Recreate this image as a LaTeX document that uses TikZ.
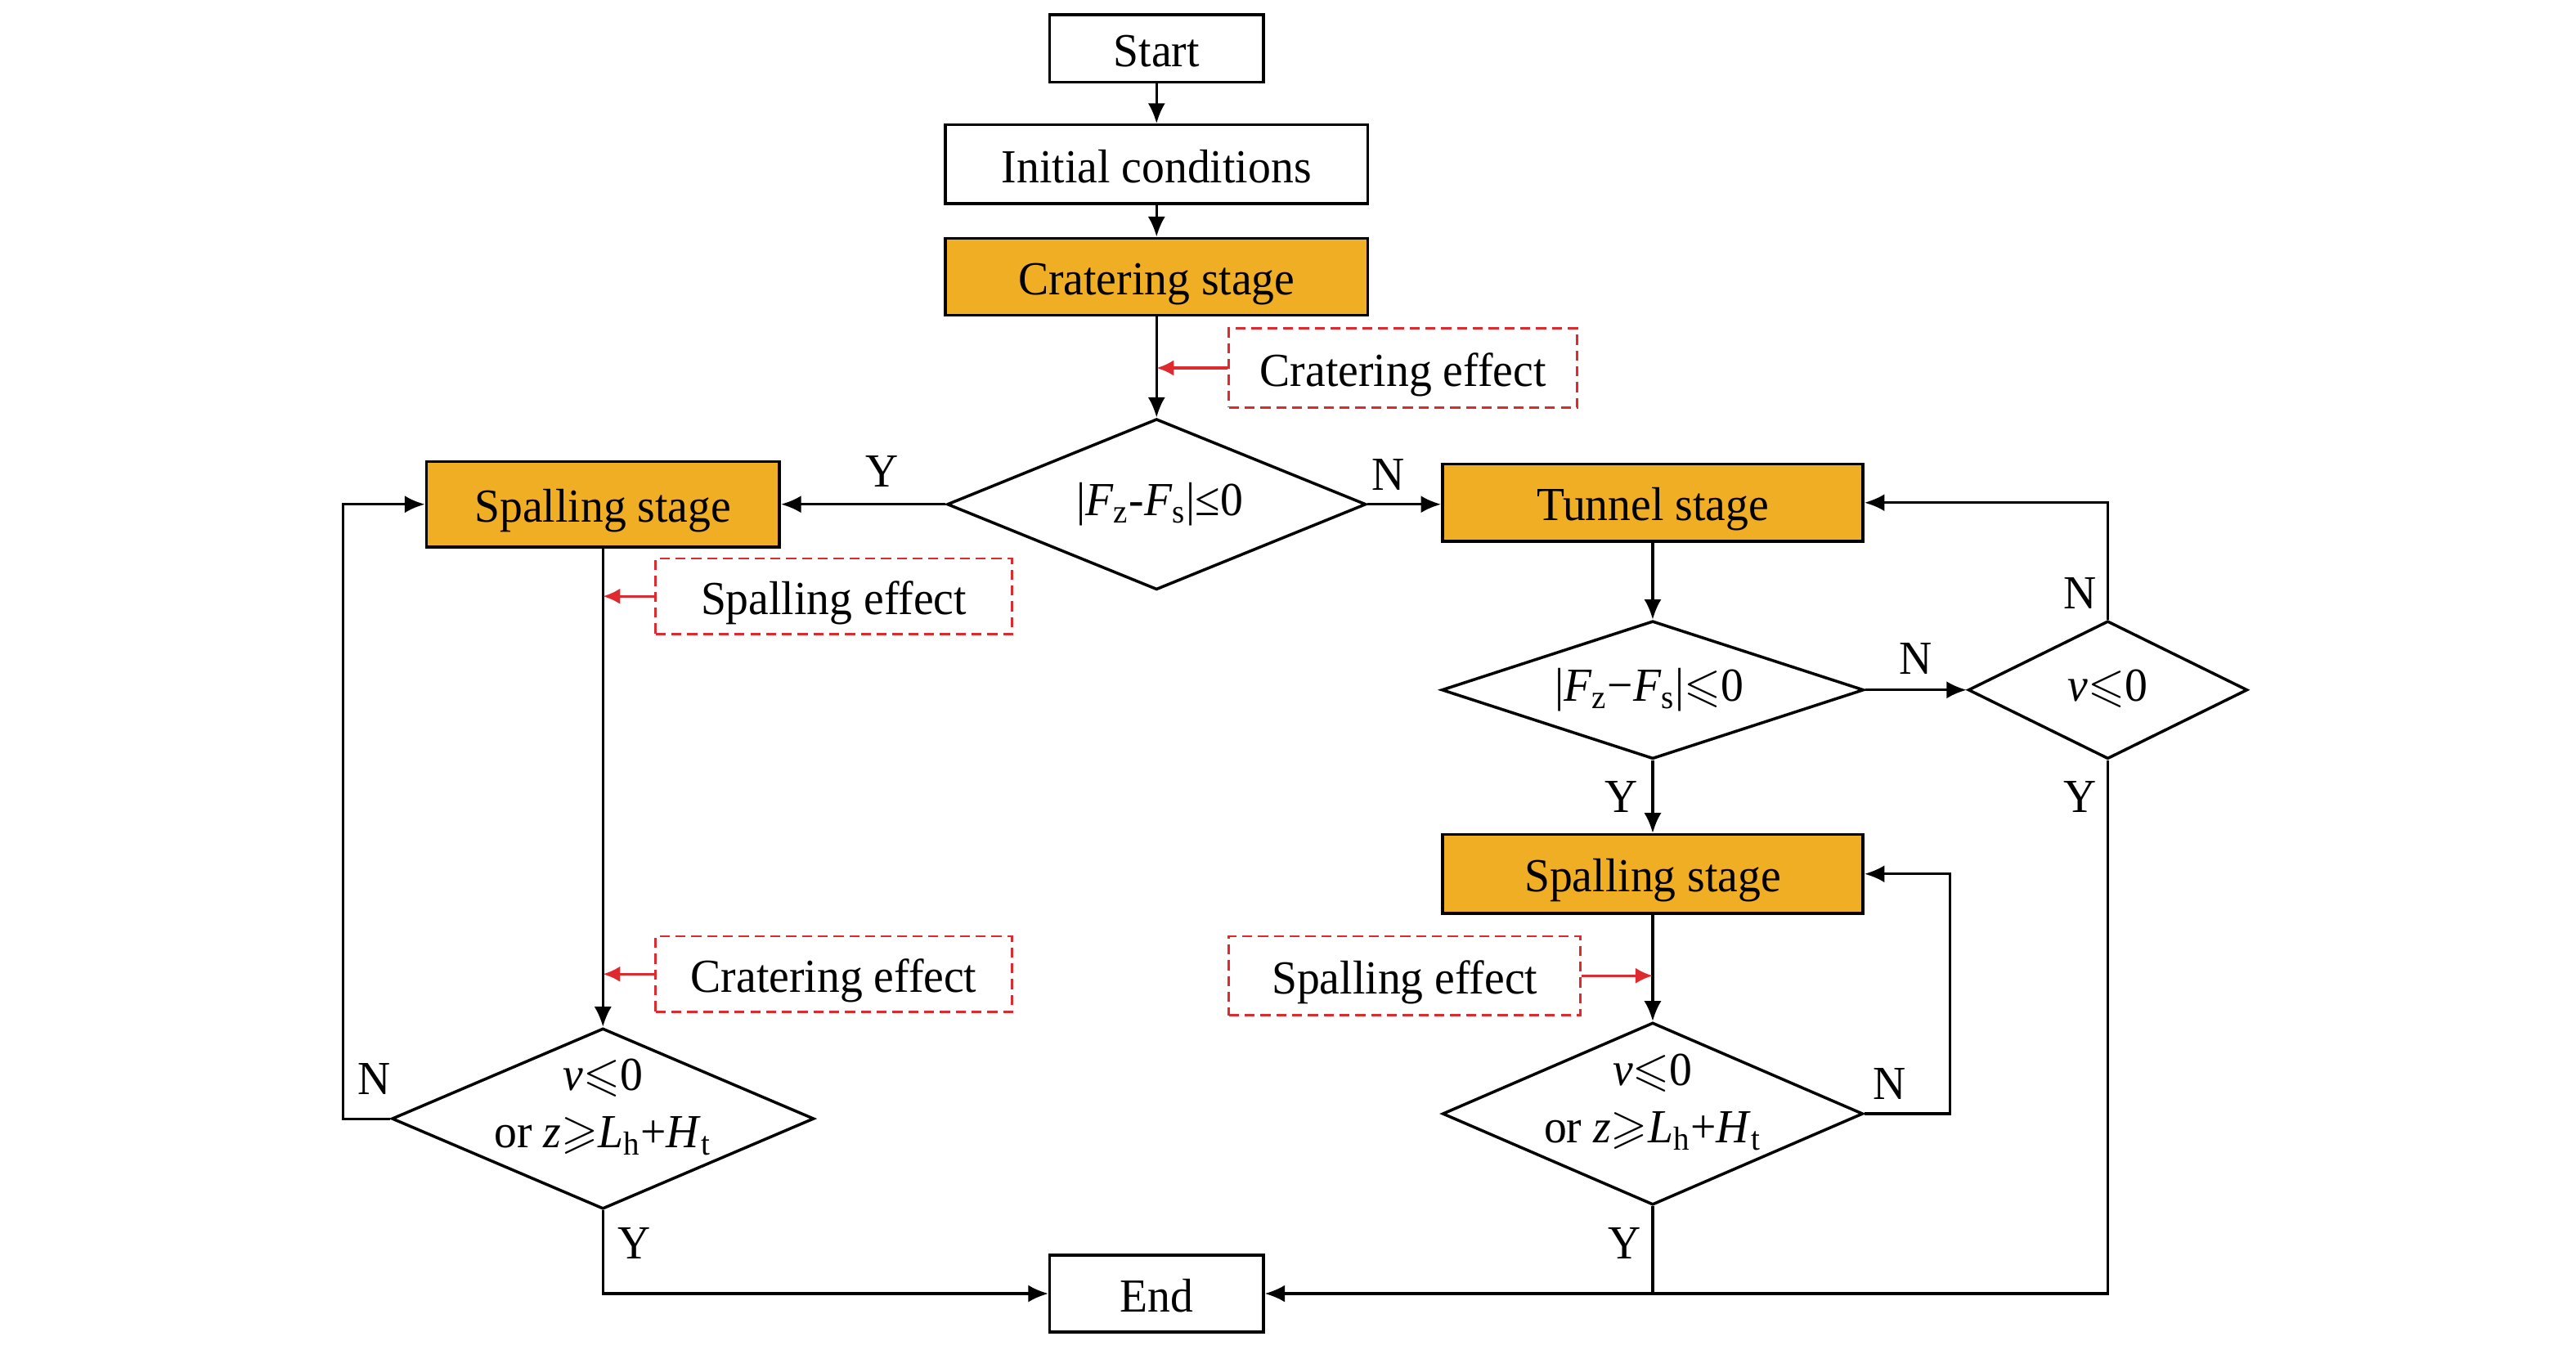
\documentclass[tikz,border=0pt]{standalone}
\usepackage{fontspec}
\setmainfont{Liberation Serif}[FakeStretch=0.96]
\usepackage{amssymb}
\usetikzlibrary{shapes.geometric,arrows.meta}
\definecolor{stagefill}{RGB}{240,174,36}
\definecolor{effred}{RGB}{222,41,46}
\newcommand{\upx}{0.02009cm}
\begin{document}
\begin{tikzpicture}[x=\upx, y=-\upx,
  every node/.style={font=\fontsize{16.5}{20}\selectfont, inner sep=0pt},
  plainbox/.style={draw, line width=1pt, rectangle, text height=12.6pt, text depth=0pt},
  stagebox/.style={plainbox, fill=stagefill},
  decision/.style={draw, line width=1pt, diamond},
  effectbox/.style={draw=effred, line width=0.8pt, dash pattern=on 3.5pt off 2pt, rectangle, text height=12.6pt, text depth=0pt},
  conn/.style={line width=0.9pt},
  arr/.style={conn, -{Latex[length=7pt,width=6pt]}},
  redarr/.style={effred, line width=0.9pt, -{Latex[length=6pt,width=5.5pt]}},
  yn/.style={}
]
\useasboundingbox (0,0) rectangle (1568,827);

% main column
\node[plainbox, minimum width=130*\upx, minimum height=41*\upx] (start) at (704,29.5) {Start};
\node[plainbox, minimum width=257*\upx, minimum height=48*\upx] (init) at (704,100) {Initial conditions};
\node[stagebox, minimum width=257*\upx, minimum height=47*\upx] (crat) at (704,168.5) {Cratering stage};
\node[decision, minimum width=255*\upx, minimum height=104*\upx] (d1) at (704,307) {};
\node (d1t) at (706,307) {|\textit{F}\textsubscript{z}-\textit{F}\textsubscript{s}|≤0};
\node[plainbox, minimum width=130*\upx, minimum height=47*\upx] (end) at (704,787.5) {End};

% left column
\node[stagebox, minimum width=215*\upx, minimum height=52*\upx] (spl) at (367,307) {Spalling stage};
\node[decision, minimum width=257*\upx, minimum height=110*\upx] (d4) at (367,681) {};
\node (d4t) at (367,674) [align=center]
  {\textit{v}$\leqslant$0\\or \textit{z}$\geqslant$\textit{L}\textsubscript{h}+\textit{H}\textsubscript{t}};

% right column
\node[stagebox, minimum width=256*\upx, minimum height=47*\upx] (tun) at (1006,306) {Tunnel stage};
\node[decision, minimum width=257*\upx, minimum height=84*\upx] (d2) at (1006,420) {};
\node (d2t) at (1004,420) {|\textit{F}\textsubscript{z}−\textit{F}\textsubscript{s}|$\leqslant$0};
\node[decision, minimum width=170*\upx, minimum height=84*\upx] (d3) at (1283,420) {};
\node (d3t) at (1283,419) {\textit{v}$\leqslant$0};
\node[stagebox, minimum width=256*\upx, minimum height=48*\upx] (spr) at (1006,532) {Spalling stage};
\node[decision, minimum width=256*\upx, minimum height=111*\upx] (d5) at (1006,678) {};
\node (d5t) at (1006,671) [align=center]
  {\textit{v}$\leqslant$0\\or \textit{z}$\geqslant$\textit{L}\textsubscript{h}+\textit{H}\textsubscript{t}};

% effect boxes
\node[effectbox, minimum width=212*\upx, minimum height=48*\upx] (ce1) at (854,224) {Cratering effect};
\node[effectbox, minimum width=217*\upx, minimum height=46*\upx] (se1) at (507.5,363) {Spalling effect};
\node[effectbox, minimum width=217*\upx, minimum height=46*\upx] (ce2) at (507.5,593) {Cratering effect};
\node[effectbox, minimum width=214*\upx, minimum height=48*\upx] (se2) at (855,594) {Spalling effect};

% loop coordinates
\coordinate (lloop) at (209,0);
\coordinate (rloop) at (1187,0);

% connectors
\draw[arr] (start) -- (init);
\draw[arr] (init) -- (crat);
\draw[arr] (crat) -- (d1);
\draw[arr] (d1.west) -- (spl.east);
\draw[arr] (d1.east) -- (d1.east -| tun.west);
\draw[arr] (tun) -- (d2);
\draw[arr] (d2.east) -- (d3.west);
\draw[arr] (d3.north) |- (tun.east);
\draw[arr] (d3.south) |- (end.east);
\draw[arr] (d2) -- (spr);
\draw[arr] (spr) -- (d5);
\draw[arr] (d5.east) -- (d5.east -| rloop) |- (spr.east);
\draw[conn] (d5.south) -- (d5.south |- end.east);
\draw[arr] (spl) -- (d4);
\draw[arr] (d4.west) -- (d4.west -| lloop) |- (spl.west);
\draw[arr] (d4.south) |- (end.west);

% red effect arrows
\draw[redarr] (ce1.west) -- (ce1.west -| crat.south);
\draw[redarr] (se1.west) -- (se1.west -| spl.south);
\draw[redarr] (ce2.west) -- (ce2.west -| spl.south);
\draw[redarr] (se2.east) -- (se2.east -| spr.south);

% Y / N labels
\node[yn] (y1) at (537,287) {Y};
\node[yn] (n1) at (845,289) {N};
\node[yn] (n2) at (1166,401) {N};
\node[yn] (n3) at (1266,361) {N};
\node[yn] (y3) at (1266,485) {Y};
\node[yn] (y2) at (987,485) {Y};
\node[yn] (n5) at (1150,660) {N};
\node[yn] (y5) at (989,757) {Y};
\node[yn] (n4) at (228,657) {N};
\node[yn] (y4) at (386,757) {Y};
\end{tikzpicture}
\end{document}
